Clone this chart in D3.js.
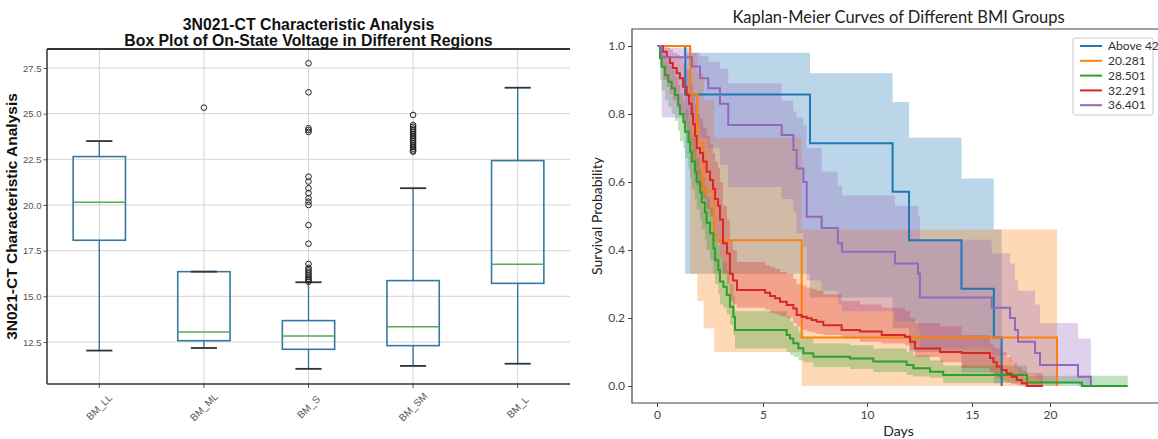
<!DOCTYPE html>
<html>
<head>
<meta charset="utf-8">
<script src="https://cdn.jsdelivr.net/npm/d3@7"></script>
<style>
  body { margin: 0; background: #fff; }
  svg { display: block; }
</style>
</head>
<body>
<svg id="chart" width="1158" height="439"></svg>
<script>
// ---- box plot data (left) ----
var regions = ["BM_LL", "BM_ML", "BM_S", "BM_SM", "BM_L"]
var whiskerLow = [12.03, 12.17, 11.03, 11.19, 11.31]
var q1 = [18.07, 12.57, 12.10, 12.30, 15.71]
var medians = [20.15, 13.05, 12.83, 13.34, 16.75]
var q3 = [22.65, 16.35, 13.67, 15.86, 22.43]
var whiskerHigh = [23.5, 16.35, 15.77, 20.92, 26.42]
var fliers = [
  [],
  [25.33],
  [27.76, 26.17, 24.2, 24.1, 24.0, 21.55, 21.28, 20.92, 20.65, 20.37, 20.18, 20.0,
   18.9, 17.88, 16.77, 16.56, 16.45, 16.35, 16.25, 16.15, 16.05, 15.95, 15.88, 15.8],
  [24.93, 24.38, 24.28, 24.18, 24.08, 23.98, 23.88, 23.78, 23.68, 23.58, 23.48,
   23.38, 23.28, 23.18, 23.08, 22.98, 22.92],
  []
]
var yTicks = [12.5, 15.0, 17.5, 20.0, 22.5, 25.0, 27.5]

// ---- Kaplan-Meier data (right): [day, survival, lower CI, upper CI] ----
var above42 = [
  [0, 1, 1, 1], [1.33, .857, .33, .98], [7.26, .714, .26, .92], [11.22, .571, .17, .835],
  [12.0, .429, .10, .73], [14.5, .286, .04, .61], [16.4, .143, .007, .46], [16.9, 0, 0, 0]
]
var bmi20 = [
  [0, 1, 1, 1], [1.56, .857, .33, .98], [1.9, .714, .25, .92], [2.2, .571, .17, .84],
  [2.7, .429, .10, .73], [6.86, .143, 0, .46], [20.45, 0, 0, 0]
]
var bmi28 = [
  [0, 1, 1, 1], [.14, .964, .90, .99], [.22, .939, .87, .975], [.38, .914, .84, .96],
  [.53, .895, .82, .945], [.69, .876, .80, .93], [.85, .856, .78, .91], [1.00, .826, .75, .885],
  [1.08, .80, .72, .86], [1.24, .777, .70, .84], [1.32, .748, .67, .815], [1.48, .718, .64, .785],
  [1.56, .689, .61, .76], [1.64, .66, .58, .73], [1.79, .63, .55, .70], [1.87, .60, .52, .67],
  [2.03, .57, .49, .64], [2.11, .54, .46, .615], [2.26, .51, .43, .585], [2.34, .48, .40, .555],
  [2.50, .449, .37, .525], [2.66, .405, .33, .48], [2.74, .37, .30, .445], [2.89, .341, .27, .415],
  [2.97, .307, .24, .38], [3.13, .292, .23, .365], [3.29, .268, .21, .34], [3.44, .233, .18, .30],
  [3.60, .204, .15, .265], [3.68, .165, .11, .22], [6.14, .15, .10, .205], [6.30, .14, .092, .19],
  [6.46, .126, .085, .175], [6.70, .111, .075, .16], [6.94, .096, .07, .14], [7.42, .086, .056, .125],
  [9.18, .081, .05, .12], [10.30, .072, .041, .11], [11.89, .062, .032, .10], [12.21, .052, .028, .09],
  [13.0, .042, .024, .075], [13.63, .032, .009, .06], [18.53, .01, 0, .03], [22.05, 0, 0, .03],
  [25.0, 0, 0, .03]
]
var bmi32 = [
  [0, 1, 1, 1], [.28, .983, .90, .998], [.46, .967, .88, .995], [.61, .95, .86, .99],
  [.75, .935, .84, .98], [.93, .92, .82, .975], [1.08, .905, .80, .965], [1.23, .88, .77, .95],
  [1.40, .856, .745, .93], [1.51, .83, .72, .91], [1.64, .80, .69, .885], [1.70, .77, .66, .86],
  [1.79, .735, .62, .83], [1.87, .70, .59, .80], [2.03, .685, .575, .785], [2.17, .66, .55, .76],
  [2.34, .63, .52, .735], [2.50, .606, .50, .71], [2.64, .58, .47, .685], [2.74, .55, .44, .66],
  [2.88, .53, .42, .64], [2.97, .49, .38, .60], [3.11, .42, .33, .53], [3.30, .39, .30, .49],
  [3.44, .33, .25, .43], [3.58, .31, .24, .40], [3.77, .282, .23, .365], [5.10, .274, .225, .355],
  [5.34, .265, .215, .35], [5.58, .258, .21, .345], [5.82, .248, .205, .335], [6.14, .238, .20, .33],
  [6.46, .228, .185, .315], [6.62, .209, .175, .30], [6.86, .204, .165, .295], [7.10, .199, .16, .29],
  [7.34, .194, .157, .285], [7.58, .189, .153, .28], [7.90, .179, .15, .27], [8.78, .165, .14, .25],
  [9.66, .16, .13, .24], [10.70, .15, .125, .23], [11.81, .145, .12, .22], [12.05, .13, .105, .20],
  [12.29, .11, .085, .185], [13.48, .10, .07, .175], [14.51, .097, .053, .15], [16.15, .082, .04, .125],
  [16.37, .07, .03, .115], [16.58, .057, .024, .11], [16.90, .047, .015, .10], [17.22, .037, .01, .085],
  [17.54, .027, .005, .07], [17.87, .018, .002, .055], [18.19, .008, 0, .045], [18.51, 0, 0, .038],
  [19.55, 0, 0, .038]
]
var bmi36 = [
  [0, 1, 1, 1], [0.22, .967, .79, .995], [1.65, .94, .77, .98], [2.03, .905, .73, .97],
  [2.42, .876, .70, .954], [2.97, .83, .65, .934], [3.36, .768, .585, .89], [5.9, .738, .55, .84],
  [6.46, .694, .51, .807], [6.62, .64, .45, .79], [6.94, .60, .41, .768], [7.1, .498, .31, .70],
  [7.82, .465, .28, .63], [8.6, .42, .24, .59], [8.8, .395, .22, .56], [11.33, .36, .19, .53],
  [12.43, .33, .165, .50], [12.52, .26, .11, .43], [16.26, .23, .09, .39], [17.44, .20, .07, .36],
  [17.76, .165, .05, .31], [17.95, .13, .035, .28], [19.04, .097, .02, .24], [19.36, .062, .01, .185],
  [21.8, .027, .002, .14], [22.63, 0, 0, 0]
]
var groupNames = ["Above 42", "20.281", "28.501", "32.291", "36.401"]
var groupColors = ["#1f77b4", "#ff7f0e", "#2ca02c", "#d62728", "#9467bd"]
var dayTicks = [0, 5, 10, 15, 20]
var probTicks = [0, 0.2, 0.4, 0.6, 0.8, 1.0]

var svg = d3.select("#chart")
svg.append("rect").attr("width", 1158).attr("height", 439).attr("fill", "#fff")

buildBoxPlot()
buildKM()

function buildBoxPlot(){
  var left = 47, right = 570, top = 49, bottom = 384
  var g = svg.append("g")

  var x = d3.scaleBand().domain(regions).range([left, right])
  var y = d3.scaleLinear().domain([10.2, 28.54]).range([bottom, top])
  var bw = x.bandwidth()
  var boxColor = "#3579a3"

  // grid
  g.selectAll(".hgrid").data(yTicks).enter().append("line")
    .attr("x1", left).attr("x2", right)
    .attr("y1", d => y(d)).attr("y2", d => y(d))
    .attr("stroke", "#d4d4d4").attr("stroke-width", 1)
  g.selectAll(".vgrid").data(regions).enter().append("line")
    .attr("x1", d => x(d) + bw / 2).attr("x2", d => x(d) + bw / 2)
    .attr("y1", top).attr("y2", bottom)
    .attr("stroke", "#d4d4d4").attr("stroke-width", 1)

  // axes
  var yAxis = g.append("g")
    .attr("transform", "translate(" + left + ",0)")
    .call(d3.axisLeft(y).tickValues(yTicks).tickFormat(d3.format(".1f")).tickSize(3.5).tickPadding(2))
  yAxis.select(".domain").remove()
  yAxis.selectAll("text").attr("font-size", 9.5).attr("fill", "#555")
    .attr("font-family", "'Liberation Sans', Arial, sans-serif")
  yAxis.selectAll("line").attr("stroke", "#555")

  var xAxis = g.append("g")
    .attr("transform", "translate(0," + bottom + ")")
    .call(d3.axisBottom(x).tickSize(4).tickFormat(""))
  xAxis.select(".domain").remove()
  xAxis.selectAll("line").attr("stroke", "#555")

  g.selectAll(".xlab").data(regions).enter().append("text")
    .attr("transform", d => "translate(" + (x(d) + bw / 2) + ",407) rotate(-45)")
    .attr("text-anchor", "middle").attr("dy", "0.35em")
    .attr("font-size", 10).attr("fill", "#555")
    .attr("font-family", "'Liberation Sans', Arial, sans-serif")
    .text(d => d)

  // spines
  g.append("line").attr("x1", left).attr("x2", left).attr("y1", top).attr("y2", bottom)
    .attr("stroke", "#333").attr("stroke-width", 1.5)
  g.append("line").attr("x1", left).attr("x2", right).attr("y1", bottom).attr("y2", bottom)
    .attr("stroke", "#333").attr("stroke-width", 1.5)
  g.append("line").attr("x1", left).attr("x2", right).attr("y1", top).attr("y2", top)
    .attr("stroke", "#333").attr("stroke-width", 2)

  // boxes
  regions.forEach(function(r, i){
    var cx = x(r) + bw / 2
    var bg = g.append("g")
    bg.append("line").attr("x1", cx).attr("x2", cx)
      .attr("y1", y(whiskerLow[i])).attr("y2", y(q1[i]))
      .attr("stroke", boxColor).attr("stroke-width", 1.4)
    bg.append("line").attr("x1", cx).attr("x2", cx)
      .attr("y1", y(q3[i])).attr("y2", y(whiskerHigh[i]))
      .attr("stroke", boxColor).attr("stroke-width", 1.4)
    bg.append("rect")
      .attr("x", cx - bw / 4).attr("width", bw / 2)
      .attr("y", y(q3[i])).attr("height", y(q1[i]) - y(q3[i]))
      .attr("fill", "none").attr("stroke", boxColor).attr("stroke-width", 1.6)
    bg.append("line").attr("x1", cx - bw / 4).attr("x2", cx + bw / 4)
      .attr("y1", y(medians[i])).attr("y2", y(medians[i]))
      .attr("stroke", "#52ad52").attr("stroke-width", 1.5)
    ;[whiskerLow[i], whiskerHigh[i]].forEach(function(v){
      bg.append("line").attr("x1", cx - bw / 8).attr("x2", cx + bw / 8)
        .attr("y1", y(v)).attr("y2", y(v))
        .attr("stroke", "#333").attr("stroke-width", 1.8)
    })
    bg.selectAll("circle").data(fliers[i]).enter().append("circle")
      .attr("cx", cx).attr("cy", d => y(d)).attr("r", 2.8)
      .attr("fill", "none").attr("stroke", "#222").attr("stroke-width", 1)
  })

  // titles
  var t = g.append("text").attr("x", (left + right) / 2).attr("text-anchor", "middle")
    .attr("font-family", "'Liberation Sans', Arial, sans-serif")
    .attr("font-weight", "bold").attr("font-size", 15.8).attr("fill", "#111")
  t.append("tspan").attr("x", (left + right) / 2).attr("y", 30).text("3N021-CT Characteristic Analysis")
  t.append("tspan").attr("x", (left + right) / 2).attr("y", 45.5).text("Box Plot of On-State Voltage in Different Regions")

  g.append("text")
    .attr("transform", "translate(17," + ((top + bottom) / 2) + ") rotate(-90)")
    .attr("text-anchor", "middle")
    .attr("font-family", "'Liberation Sans', Arial, sans-serif")
    .attr("font-weight", "bold").attr("font-size", 15.5).attr("fill", "#111")
    .text("3N021-CT Characteristic Analysis")
}

function buildKM(){
  var left = 632, right = 1165, top = 29, bottom = 403
  var font = "Lato, 'Open Sans', sans-serif"
  var g = svg.append("g")

  var x = d3.scaleLinear()
    .domain([-1.2, 0, 5, 10, 15, 20, 27.4])
    .range([left, 657, 763, 867, 972, 1050, right])
  var y = d3.scaleLinear().domain([-0.05, 1.05]).range([bottom, top])

  g.append("clipPath").attr("id", "kmclip").append("rect")
    .attr("x", left).attr("y", top).attr("width", right - left).attr("height", bottom - top)

  var groups = [above42, bmi20, bmi28, bmi32, bmi36]
  var area = d3.area().curve(d3.curveStepAfter)
    .x(d => x(d[0])).y0(d => y(d[2])).y1(d => y(d[3]))
  var line = d3.line().curve(d3.curveStepAfter)
    .x(d => x(d[0])).y(d => y(d[1]))

  var plot = g.append("g").attr("clip-path", "url(#kmclip)")
  groups.forEach(function(rows, i){
    plot.append("path").attr("d", area(rows))
      .attr("fill", groupColors[i]).attr("fill-opacity", 0.3)
  })
  groups.forEach(function(rows, i){
    plot.append("path").attr("d", line(rows))
      .attr("fill", "none").attr("stroke", groupColors[i]).attr("stroke-width", 2)
  })

  // axes
  var yAxis = g.append("g").attr("transform", "translate(" + left + ",0)")
    .call(d3.axisLeft(y).tickValues(probTicks).tickFormat(d3.format(".1f")).tickSize(4))
  yAxis.select(".domain").remove()
  var xAxis = g.append("g").attr("transform", "translate(0," + bottom + ")")
    .call(d3.axisBottom(x).tickValues(dayTicks).tickFormat(d3.format("d")).tickSize(4))
  xAxis.select(".domain").remove()
  g.selectAll(".tick text").attr("font-family", font).attr("font-size", 12).attr("fill", "#444")
  g.selectAll(".tick line").attr("stroke", "#444")

  // spines
  g.append("path")
    .attr("d", "M" + right + "," + top + "H" + left + "V" + bottom + "H" + right)
    .attr("fill", "none").attr("stroke", "#444").attr("stroke-width", 1.2)

  g.append("text").attr("x", (left + right) / 2).attr("y", 23).attr("text-anchor", "middle")
    .attr("font-family", font).attr("font-size", 16.5).attr("fill", "#222")
    .text("Kaplan-Meier Curves of Different BMI Groups")
  g.append("text").attr("x", (left + right) / 2).attr("y", 436).attr("text-anchor", "middle")
    .attr("font-family", font).attr("font-size", 14).attr("fill", "#222")
    .text("Days")
  g.append("text")
    .attr("transform", "translate(602," + ((top + bottom) / 2) + ") rotate(-90)")
    .attr("text-anchor", "middle")
    .attr("font-family", font).attr("font-size", 14).attr("fill", "#222")
    .text("Survival Probability")

  // legend
  var lg = g.append("g").attr("transform", "translate(1073,38)")
  lg.append("rect").attr("width", 80).attr("height", 77).attr("rx", 2)
    .attr("fill", "#fff").attr("fill-opacity", 0.85).attr("stroke", "#ccc")
  groupNames.forEach(function(name, i){
    var yy = 8 + i * 14.8
    lg.append("line").attr("x1", 7).attr("x2", 29).attr("y1", yy).attr("y2", yy)
      .attr("stroke", groupColors[i]).attr("stroke-width", 2)
    lg.append("text").attr("x", 35).attr("y", yy).attr("dy", "0.35em")
      .attr("font-family", font).attr("font-size", 12).attr("fill", "#333")
      .text(name)
  })
}
</script>
</body>
</html>
